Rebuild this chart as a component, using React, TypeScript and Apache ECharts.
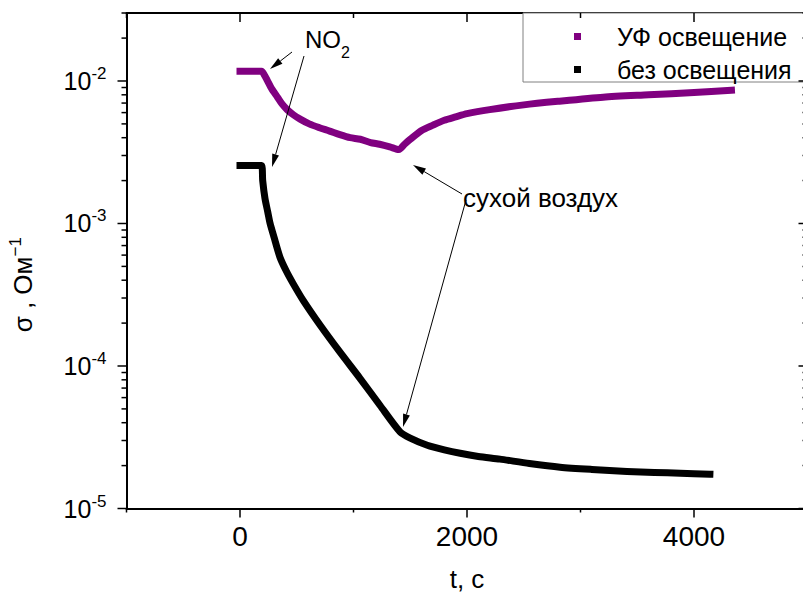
import { useEffect, useRef } from 'react';
import * as echarts from 'echarts';

// ---- data ----
const seriesNames = ['УФ освещение', 'без освещения'];
const uvTime = [0, 190, 215, 240, 280, 330, 370, 415, 470, 530, 610, 700, 790, 880, 970, 1060, 1150, 1230, 1320, 1400, 1450, 1500, 1600, 1700, 1800, 1900, 2000, 2200, 2500, 2800, 3200, 3600, 4000, 4330];
const uvSigma = [0.0117, 0.0117, 0.011, 0.0101, 0.0088, 0.0077, 0.0069, 0.0063, 0.0058, 0.0054, 0.005, 0.0047, 0.00445, 0.0042, 0.004, 0.0039, 0.0037, 0.0036, 0.00345, 0.0033, 0.0036, 0.0039, 0.0045, 0.0049, 0.0053, 0.0056, 0.0059, 0.0063, 0.0068, 0.0072, 0.0077, 0.008, 0.0083, 0.0086];
const darkTime = [0, 190, 200, 220, 245, 264, 300, 352, 410, 467, 555, 705, 881, 1057, 1233, 1410, 1500, 1650, 1800, 1940, 2100, 2290, 2550, 2820, 3100, 3410, 3650, 3880, 4140];
const darkSigma = [0.00255, 0.00255, 0.002, 0.0015, 0.0012, 0.00101, 0.0008, 0.00058, 0.00046, 0.00038, 0.00029, 0.000194, 0.000125, 0.000082, 0.000053, 0.0000345, 0.0000312, 0.0000278, 0.0000258, 0.0000244, 0.0000232, 0.0000222, 0.0000207, 0.0000195, 0.0000188, 0.0000182, 0.0000179, 0.0000177, 0.0000174];
const xMajorTicks = [0, 2000, 4000];
const xMinorTicks = [-1000, 1000, 3000, 5000];
const yMajorTicks = [1e-5, 1e-4, 1e-3, 1e-2];
const yMinorTicks = [
  2e-5, 3e-5, 4e-5, 5e-5, 6e-5, 7e-5, 8e-5, 9e-5,
  2e-4, 3e-4, 4e-4, 5e-4, 6e-4, 7e-4, 8e-4, 9e-4,
  2e-3, 3e-3, 4e-3, 5e-3, 6e-3, 7e-3, 8e-3, 9e-3,
  2e-2, 3e-2,
];
const xRange = [-1000, 5000];
const yRange = [1e-5, 0.03];

// annotation arrows in pixels: [fromX, fromY, tipX, tipY]
const arrows = [
  [292, 52, 270, 69],
  [304, 56, 272, 167],
  [462, 194, 413, 165],
  [466, 200, 403, 427],
];

const FONT = '"Liberation Sans", Arial, Helvetica, sans-serif';
const BLACK = '#000';

function xAxisDef(position: 'top' | 'bottom', labels: boolean) {
  return {
    type: 'value',
    gridIndex: 0,
    position,
    min: xRange[0],
    max: xRange[1],
    axisLine: { show: true, onZero: false, lineStyle: { color: BLACK, width: 2 } },
    axisTick: { show: false },
    axisLabel: labels
      ? {
          show: true,
          customValues: xMajorTicks,
          fontSize: 28,
          fontFamily: FONT,
          color: BLACK,
          margin: 14,
          formatter: (v: number) => String(v),
        }
      : { show: false },
    splitLine: { show: false },
    ...(labels
      ? {
          name: 't, c',
          nameLocation: 'middle',
          nameGap: 57,
          nameTextStyle: { fontSize: 26, fontFamily: FONT, color: BLACK },
        }
      : {}),
  };
}

function yAxisDef(position: 'left' | 'right', labels: boolean) {
  return {
    type: 'log',
    logBase: 10,
    gridIndex: 0,
    position,
    min: yRange[0],
    max: yRange[1],
    axisLine: { show: true, onZero: false, lineStyle: { color: BLACK, width: 2 } },
    axisTick: { show: false },
    axisLabel: labels
      ? {
          show: true,
          customValues: yMajorTicks,
          margin: 20,
          formatter: (v: number) => `{b|10}{s|${Math.round(Math.log10(v))}}`,
          rich: {
            b: { fontSize: 25, fontFamily: FONT, color: BLACK },
            s: { fontSize: 17, fontFamily: FONT, color: BLACK, padding: [0, 0, 15, 0] },
          },
        }
      : { show: false },
    splitLine: { show: false },
    minorTick: { show: false },
    ...(labels
      ? {
          name: '{m|σ , Ом}{s|−1}',
          nameLocation: 'middle',
          nameGap: 88,
          nameTextStyle: {
            fontSize: 26,
            fontFamily: FONT,
            color: BLACK,
            padding: [0, 48, 0, 0],
            rich: {
              m: { fontSize: 26, fontFamily: FONT, color: BLACK },
              s: { fontSize: 17, fontFamily: FONT, color: BLACK, padding: [0, 0, 15, 0] },
            },
          },
        }
      : {}),
  };
}

function arrowGraphics() {
  const out: any[] = [];
  arrows.forEach(([x1, y1, x2, y2]) => {
    const dx = x2 - x1;
    const dy = y2 - y1;
    const len = Math.hypot(dx, dy);
    const ux = dx / len;
    const uy = dy / len;
    const L = 13;
    const W = 3.5;
    const bx = x2 - ux * L;
    const by = y2 - uy * L;
    out.push({
      type: 'line',
      shape: { x1, y1, x2: bx, y2: by },
      style: { stroke: BLACK, lineWidth: 1 },
      z: 100,
    });
    out.push({
      type: 'polygon',
      shape: { points: [[x2, y2], [bx - uy * W, by + ux * W], [bx + uy * W, by - ux * W]] },
      style: { fill: BLACK },
      z: 100,
    });
  });
  return out;
}

function tickLine(x1: number, y1: number, x2: number, y2: number) {
  return {
    type: 'line',
    z: 120,
    silent: true,
    shape: { x1, y1, x2, y2 },
    style: { stroke: BLACK, lineWidth: 1.5 },
  };
}

export default function App() {
  const ref = useRef<HTMLDivElement>(null);
  useEffect(() => {
    if (!ref.current) return;
    const chart = echarts.init(ref.current, null, { renderer: 'svg' });
    chart.setOption({
      animation: false,
      backgroundColor: '#fff',
      grid: { left: 126.5, top: 13, width: 681, height: 495.5, containLabel: false, outerBoundsMode: 'none' },
      xAxis: [xAxisDef('bottom', true), xAxisDef('top', false)],
      yAxis: [yAxisDef('left', true), yAxisDef('right', false)],
      legend: {
        show: true,
        orient: 'vertical',
        left: 523,
        top: 13,
        padding: [11, 20, 0, 51],
        itemGap: 8,
        itemWidth: 7,
        itemHeight: 7,
        icon: 'rect',
        borderColor: '#808080',
        borderWidth: 1,
        backgroundColor: '#fff',
        data: seriesNames,
        textStyle: { fontSize: 25, fontFamily: FONT, color: BLACK, padding: [0, 0, 0, 31] },
      },
      series: [
        {
          type: 'line',
          name: seriesNames[0],
          xAxisIndex: 0,
          yAxisIndex: 0,
          data: uvTime.map((t, i) => [t, uvSigma[i]]),
          showSymbol: false,
          symbol: 'none',
          smooth: 0.25,
          itemStyle: { color: '#800080' },
          lineStyle: { color: '#800080', width: 7, cap: 'square', join: 'miter' },
          z: 5,
        },
        {
          type: 'line',
          name: seriesNames[1],
          xAxisIndex: 0,
          yAxisIndex: 0,
          data: darkTime.map((t, i) => [t, darkSigma[i]]),
          showSymbol: false,
          symbol: 'none',
          smooth: 0.25,
          itemStyle: { color: BLACK },
          lineStyle: { color: BLACK, width: 7, cap: 'square', join: 'miter' },
          z: 5,
        },
      ],
    });

    // ticks placed through the chart's own axis scales
    const toPx = (x: number, y: number) =>
      chart.convertToPixel({ xAxisIndex: 0, yAxisIndex: 0 }, [x, y]) as number[];
    const ticks: any[] = [];
    const addX = (v: number, major: boolean) => {
      const b = toPx(v, yRange[0]);
      const t = toPx(v, yRange[1]);
      if (!b || !t) return;
      ticks.push(tickLine(b[0], b[1], b[0], b[1] + (major ? 9 : 4)));
      ticks.push(tickLine(t[0], t[1], t[0], t[1] + (major ? 9 : 5)));
    };
    const addY = (v: number, major: boolean) => {
      const l = toPx(xRange[0], v);
      const r = toPx(xRange[1], v);
      if (!l || !r) return;
      ticks.push(tickLine(l[0], l[1], l[0] - (major ? 9 : 5), l[1]));
      ticks.push(tickLine(r[0], r[1], r[0] - (major ? 9 : 5), r[1]));
    };
    xMajorTicks.forEach((v) => addX(v, true));
    xMinorTicks.forEach((v) => addX(v, false));
    yMajorTicks.forEach((v) => addY(v, true));
    yMinorTicks.forEach((v) => addY(v, false));

    chart.setOption({
      graphic: [
        ...ticks,
        ...arrowGraphics(),
        {
          type: 'text',
          x: 305,
          y: 39,
          z: 100,
          style: { text: 'NO', fontSize: 24, fontFamily: FONT, fill: BLACK, verticalAlign: 'middle' },
        },
        {
          type: 'text',
          x: 341,
          y: 52.5,
          z: 100,
          style: { text: '2', fontSize: 16, fontFamily: FONT, fill: BLACK, verticalAlign: 'middle' },
        },
        {
          type: 'text',
          x: 463,
          y: 198,
          z: 100,
          style: { text: 'сухой воздух', fontSize: 26, fontFamily: FONT, fill: BLACK, verticalAlign: 'middle' },
        },
      ],
    });
    return () => chart.dispose();
  }, []);
  return (
    <div
      ref={ref}
      style={{ position: 'fixed', left: 0, top: 0, width: 803, height: 598, background: '#fff' }}
    />
  );
}
